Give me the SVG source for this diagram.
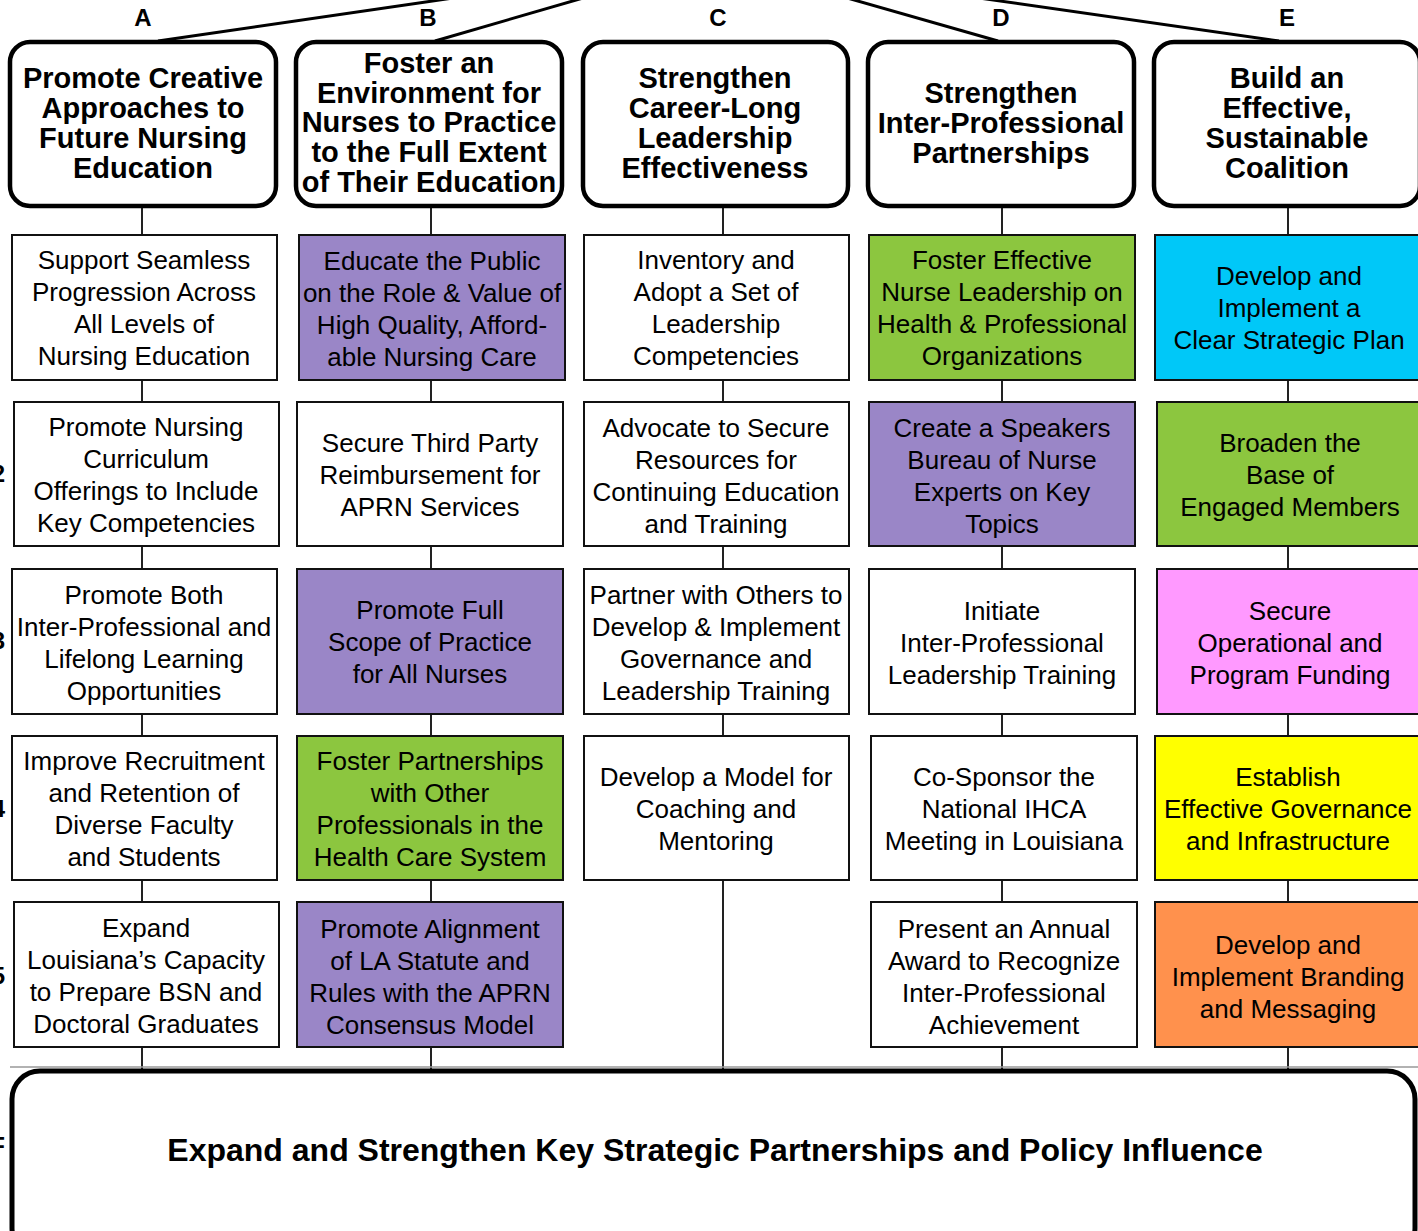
<svg xmlns="http://www.w3.org/2000/svg" width="1418" height="1231" viewBox="0 0 1418 1231">
<style>
.hdr{fill:#fff;stroke:#000;stroke-width:4.5}
.ht{font-family:"Liberation Sans",Arial,sans-serif;font-weight:bold;font-size:29px;text-anchor:middle;fill:#000}
.cell{stroke:#111;stroke-width:2}
.ct{font-family:"Liberation Sans",Arial,sans-serif;font-size:26px;text-anchor:middle;fill:#000}
.lbl{font-family:"Liberation Sans",Arial,sans-serif;font-weight:bold;font-size:24px;fill:#000}
.w{fill:#fff}.p{fill:#9A86C7}.g{fill:#8CC63F}.c{fill:#00C8F8}.k{fill:#FF99FF}.y{fill:#FFFF00}.o{fill:#FF914D}
.conn{stroke:#222;stroke-width:2;fill:none}
.top{stroke:#000;stroke-width:3;fill:none}
</style>
<rect width="1418" height="1231" fill="#fff"/>
<g id="connectors">
<line class="top" x1="714" y1="-40" x2="158" y2="41"/>
<line class="top" x1="714" y1="-40" x2="435" y2="41"/>
<line class="top" x1="714" y1="-40" x2="998" y2="41"/>
<line class="top" x1="714" y1="-40" x2="1279" y2="41"/>
<line class="conn" x1="142" y1="206" x2="142" y2="1069"/>
<line class="conn" x1="431" y1="206" x2="431" y2="1069"/>
<line class="conn" x1="723" y1="206" x2="723" y2="1069"/>
<line class="conn" x1="1002" y1="206" x2="1002" y2="1069"/>
<line class="conn" x1="1288" y1="206" x2="1288" y2="1069"/>
<line x1="10" y1="1067" x2="1418" y2="1067" stroke="#999" stroke-width="1.5"/>
</g>
<g id="labels">
<text class="lbl" x="143" y="26" text-anchor="middle">A</text>
<text class="lbl" x="428" y="26" text-anchor="middle">B</text>
<text class="lbl" x="718" y="26" text-anchor="middle">C</text>
<text class="lbl" x="1001" y="26" text-anchor="middle">D</text>
<text class="lbl" x="1287" y="26" text-anchor="middle">E</text>
<text class="lbl" x="5" y="482" text-anchor="end">2</text>
<text class="lbl" x="5" y="649" text-anchor="end">3</text>
<text class="lbl" x="5" y="817" text-anchor="end">4</text>
<text class="lbl" x="5" y="984" text-anchor="end">5</text>
<text class="lbl" x="5" y="1154" text-anchor="end">F</text>
</g>
<g id="hA"><rect class="hdr" x="10" y="42" width="266" height="164" rx="20"/>
<text class="ht" x="143"><tspan x="143" y="88">Promote Creative</tspan><tspan x="143" y="118">Approaches to</tspan><tspan x="143" y="148">Future Nursing</tspan><tspan x="143" y="178">Education</tspan></text></g>
<g id="hB"><rect class="hdr" x="296" y="42" width="266" height="164" rx="20"/>
<text class="ht" x="429"><tspan x="429" y="73">Foster an</tspan><tspan x="429" y="103">Environment for</tspan><tspan x="429" y="132">Nurses to Practice</tspan><tspan x="429" y="162">to the Full Extent</tspan><tspan x="429" y="192">of Their Education</tspan></text></g>
<g id="hC"><rect class="hdr" x="583" y="42" width="265" height="164" rx="20"/>
<text class="ht" x="715"><tspan x="715" y="88">Strengthen</tspan><tspan x="715" y="118">Career-Long</tspan><tspan x="715" y="148">Leadership</tspan><tspan x="715" y="178">Effectiveness</tspan></text></g>
<g id="hD"><rect class="hdr" x="868" y="42" width="266" height="164" rx="20"/>
<text class="ht" x="1001"><tspan x="1001" y="103">Strengthen</tspan><tspan x="1001" y="133">Inter-Professional</tspan><tspan x="1001" y="163">Partnerships</tspan></text></g>
<g id="hE"><rect class="hdr" x="1154" y="42" width="266" height="164" rx="20"/>
<text class="ht" x="1287"><tspan x="1287" y="88">Build an</tspan><tspan x="1287" y="118">Effective,</tspan><tspan x="1287" y="148">Sustainable</tspan><tspan x="1287" y="178">Coalition</tspan></text></g>

<g id="A1"><rect class="cell w" x="12" y="235" width="265" height="145"/><text class="ct"><tspan x="144" y="269">Support Seamless</tspan><tspan x="144" y="301">Progression Across</tspan><tspan x="144" y="333">All Levels of</tspan><tspan x="144" y="365">Nursing Education</tspan></text></g>
<g id="A2"><rect class="cell w" x="14" y="402" width="265" height="144"/><text class="ct"><tspan x="146" y="436">Promote Nursing</tspan><tspan x="146" y="468">Curriculum</tspan><tspan x="146" y="500">Offerings to Include</tspan><tspan x="146" y="532">Key Competencies</tspan></text></g>
<g id="A3"><rect class="cell w" x="12" y="569" width="265" height="145"/><text class="ct"><tspan x="144" y="604">Promote Both</tspan><tspan x="144" y="636">Inter-Professional and</tspan><tspan x="144" y="668">Lifelong Learning</tspan><tspan x="144" y="700">Opportunities</tspan></text></g>
<g id="A4"><rect class="cell w" x="12" y="736" width="265" height="144"/><text class="ct"><tspan x="144" y="770">Improve Recruitment</tspan><tspan x="144" y="802">and Retention of</tspan><tspan x="144" y="834">Diverse Faculty</tspan><tspan x="144" y="866">and Students</tspan></text></g>
<g id="A5"><rect class="cell w" x="14" y="902" width="265" height="145"/><text class="ct"><tspan x="146" y="937">Expand</tspan><tspan x="146" y="969">Louisiana’s Capacity</tspan><tspan x="146" y="1001">to Prepare BSN and</tspan><tspan x="146" y="1033">Doctoral Graduates</tspan></text></g>

<g id="B1"><rect class="cell p" x="299" y="235" width="266" height="145"/><text class="ct"><tspan x="432" y="270">Educate the Public</tspan><tspan x="432" y="302">on the Role &amp; Value of</tspan><tspan x="432" y="334">High Quality, Afford-</tspan><tspan x="432" y="366">able Nursing Care</tspan></text></g>
<g id="B2"><rect class="cell w" x="297" y="402" width="266" height="144"/><text class="ct"><tspan x="430" y="452">Secure Third Party</tspan><tspan x="430" y="484">Reimbursement for</tspan><tspan x="430" y="516">APRN Services</tspan></text></g>
<g id="B3"><rect class="cell p" x="297" y="569" width="266" height="145"/><text class="ct"><tspan x="430" y="619">Promote Full</tspan><tspan x="430" y="651">Scope of Practice</tspan><tspan x="430" y="683">for All Nurses</tspan></text></g>
<g id="B4"><rect class="cell g" x="297" y="736" width="266" height="144"/><text class="ct"><tspan x="430" y="770">Foster Partnerships</tspan><tspan x="430" y="802">with Other</tspan><tspan x="430" y="834">Professionals in the</tspan><tspan x="430" y="866">Health Care System</tspan></text></g>
<g id="B5"><rect class="cell p" x="297" y="902" width="266" height="145"/><text class="ct"><tspan x="430" y="938">Promote Alignment</tspan><tspan x="430" y="970">of LA Statute and</tspan><tspan x="430" y="1002">Rules with the APRN</tspan><tspan x="430" y="1034">Consensus Model</tspan></text></g>

<g id="C1"><rect class="cell w" x="584" y="235" width="265" height="145"/><text class="ct"><tspan x="716" y="269">Inventory and</tspan><tspan x="716" y="301">Adopt a Set of</tspan><tspan x="716" y="333">Leadership</tspan><tspan x="716" y="365">Competencies</tspan></text></g>
<g id="C2"><rect class="cell w" x="584" y="402" width="265" height="144"/><text class="ct"><tspan x="716" y="437">Advocate to Secure</tspan><tspan x="716" y="469">Resources for</tspan><tspan x="716" y="501">Continuing Education</tspan><tspan x="716" y="533">and Training</tspan></text></g>
<g id="C3"><rect class="cell w" x="584" y="569" width="265" height="145"/><text class="ct"><tspan x="716" y="604">Partner with Others to</tspan><tspan x="716" y="636">Develop &amp; Implement</tspan><tspan x="716" y="668">Governance and</tspan><tspan x="716" y="700">Leadership Training</tspan></text></g>
<g id="C4"><rect class="cell w" x="584" y="736" width="265" height="144"/><text class="ct"><tspan x="716" y="786">Develop a Model for</tspan><tspan x="716" y="818">Coaching and</tspan><tspan x="716" y="850">Mentoring</tspan></text></g>

<g id="D1"><rect class="cell g" x="869" y="235" width="266" height="145"/><text class="ct"><tspan x="1002" y="269">Foster Effective</tspan><tspan x="1002" y="301">Nurse Leadership on</tspan><tspan x="1002" y="333">Health &amp; Professional</tspan><tspan x="1002" y="365">Organizations</tspan></text></g>
<g id="D2"><rect class="cell p" x="869" y="402" width="266" height="144"/><text class="ct"><tspan x="1002" y="437">Create a Speakers</tspan><tspan x="1002" y="469">Bureau of Nurse</tspan><tspan x="1002" y="501">Experts on Key</tspan><tspan x="1002" y="533">Topics</tspan></text></g>
<g id="D3"><rect class="cell w" x="869" y="569" width="266" height="145"/><text class="ct"><tspan x="1002" y="620">Initiate</tspan><tspan x="1002" y="652">Inter-Professional</tspan><tspan x="1002" y="684">Leadership Training</tspan></text></g>
<g id="D4"><rect class="cell w" x="871" y="736" width="266" height="144"/><text class="ct"><tspan x="1004" y="786">Co-Sponsor the</tspan><tspan x="1004" y="818">National IHCA</tspan><tspan x="1004" y="850">Meeting in Louisiana</tspan></text></g>
<g id="D5"><rect class="cell w" x="871" y="902" width="266" height="145"/><text class="ct"><tspan x="1004" y="938">Present an Annual</tspan><tspan x="1004" y="970">Award to Recognize</tspan><tspan x="1004" y="1002">Inter-Professional</tspan><tspan x="1004" y="1034">Achievement</tspan></text></g>

<g id="E1"><rect class="cell c" x="1155" y="235" width="268" height="145"/><text class="ct"><tspan x="1289" y="285">Develop and</tspan><tspan x="1289" y="317">Implement a</tspan><tspan x="1289" y="349">Clear Strategic Plan</tspan></text></g>
<g id="E2"><rect class="cell g" x="1157" y="402" width="266" height="144"/><text class="ct"><tspan x="1290" y="452">Broaden the</tspan><tspan x="1290" y="484">Base of</tspan><tspan x="1290" y="516">Engaged Members</tspan></text></g>
<g id="E3"><rect class="cell k" x="1157" y="569" width="266" height="145"/><text class="ct"><tspan x="1290" y="620">Secure</tspan><tspan x="1290" y="652">Operational and</tspan><tspan x="1290" y="684">Program Funding</tspan></text></g>
<g id="E4"><rect class="cell y" x="1155" y="736" width="268" height="144"/><text class="ct"><tspan x="1288" y="786">Establish</tspan><tspan x="1288" y="818">Effective Governance</tspan><tspan x="1288" y="850">and Infrastructure</tspan></text></g>
<g id="E5"><rect class="cell o" x="1155" y="902" width="268" height="145"/><text class="ct"><tspan x="1288" y="954">Develop and</tspan><tspan x="1288" y="986">Implement Branding</tspan><tspan x="1288" y="1018">and Messaging</tspan></text></g>

<g id="F"><rect x="12" y="1071" width="1403" height="185" rx="28" fill="#fff" stroke="#000" stroke-width="5"/>
<text x="715" y="1161" font-family="'Liberation Sans',Arial,sans-serif" font-weight="bold" font-size="32" text-anchor="middle">Expand and Strengthen Key Strategic Partnerships and Policy Influence</text></g>
</svg>
